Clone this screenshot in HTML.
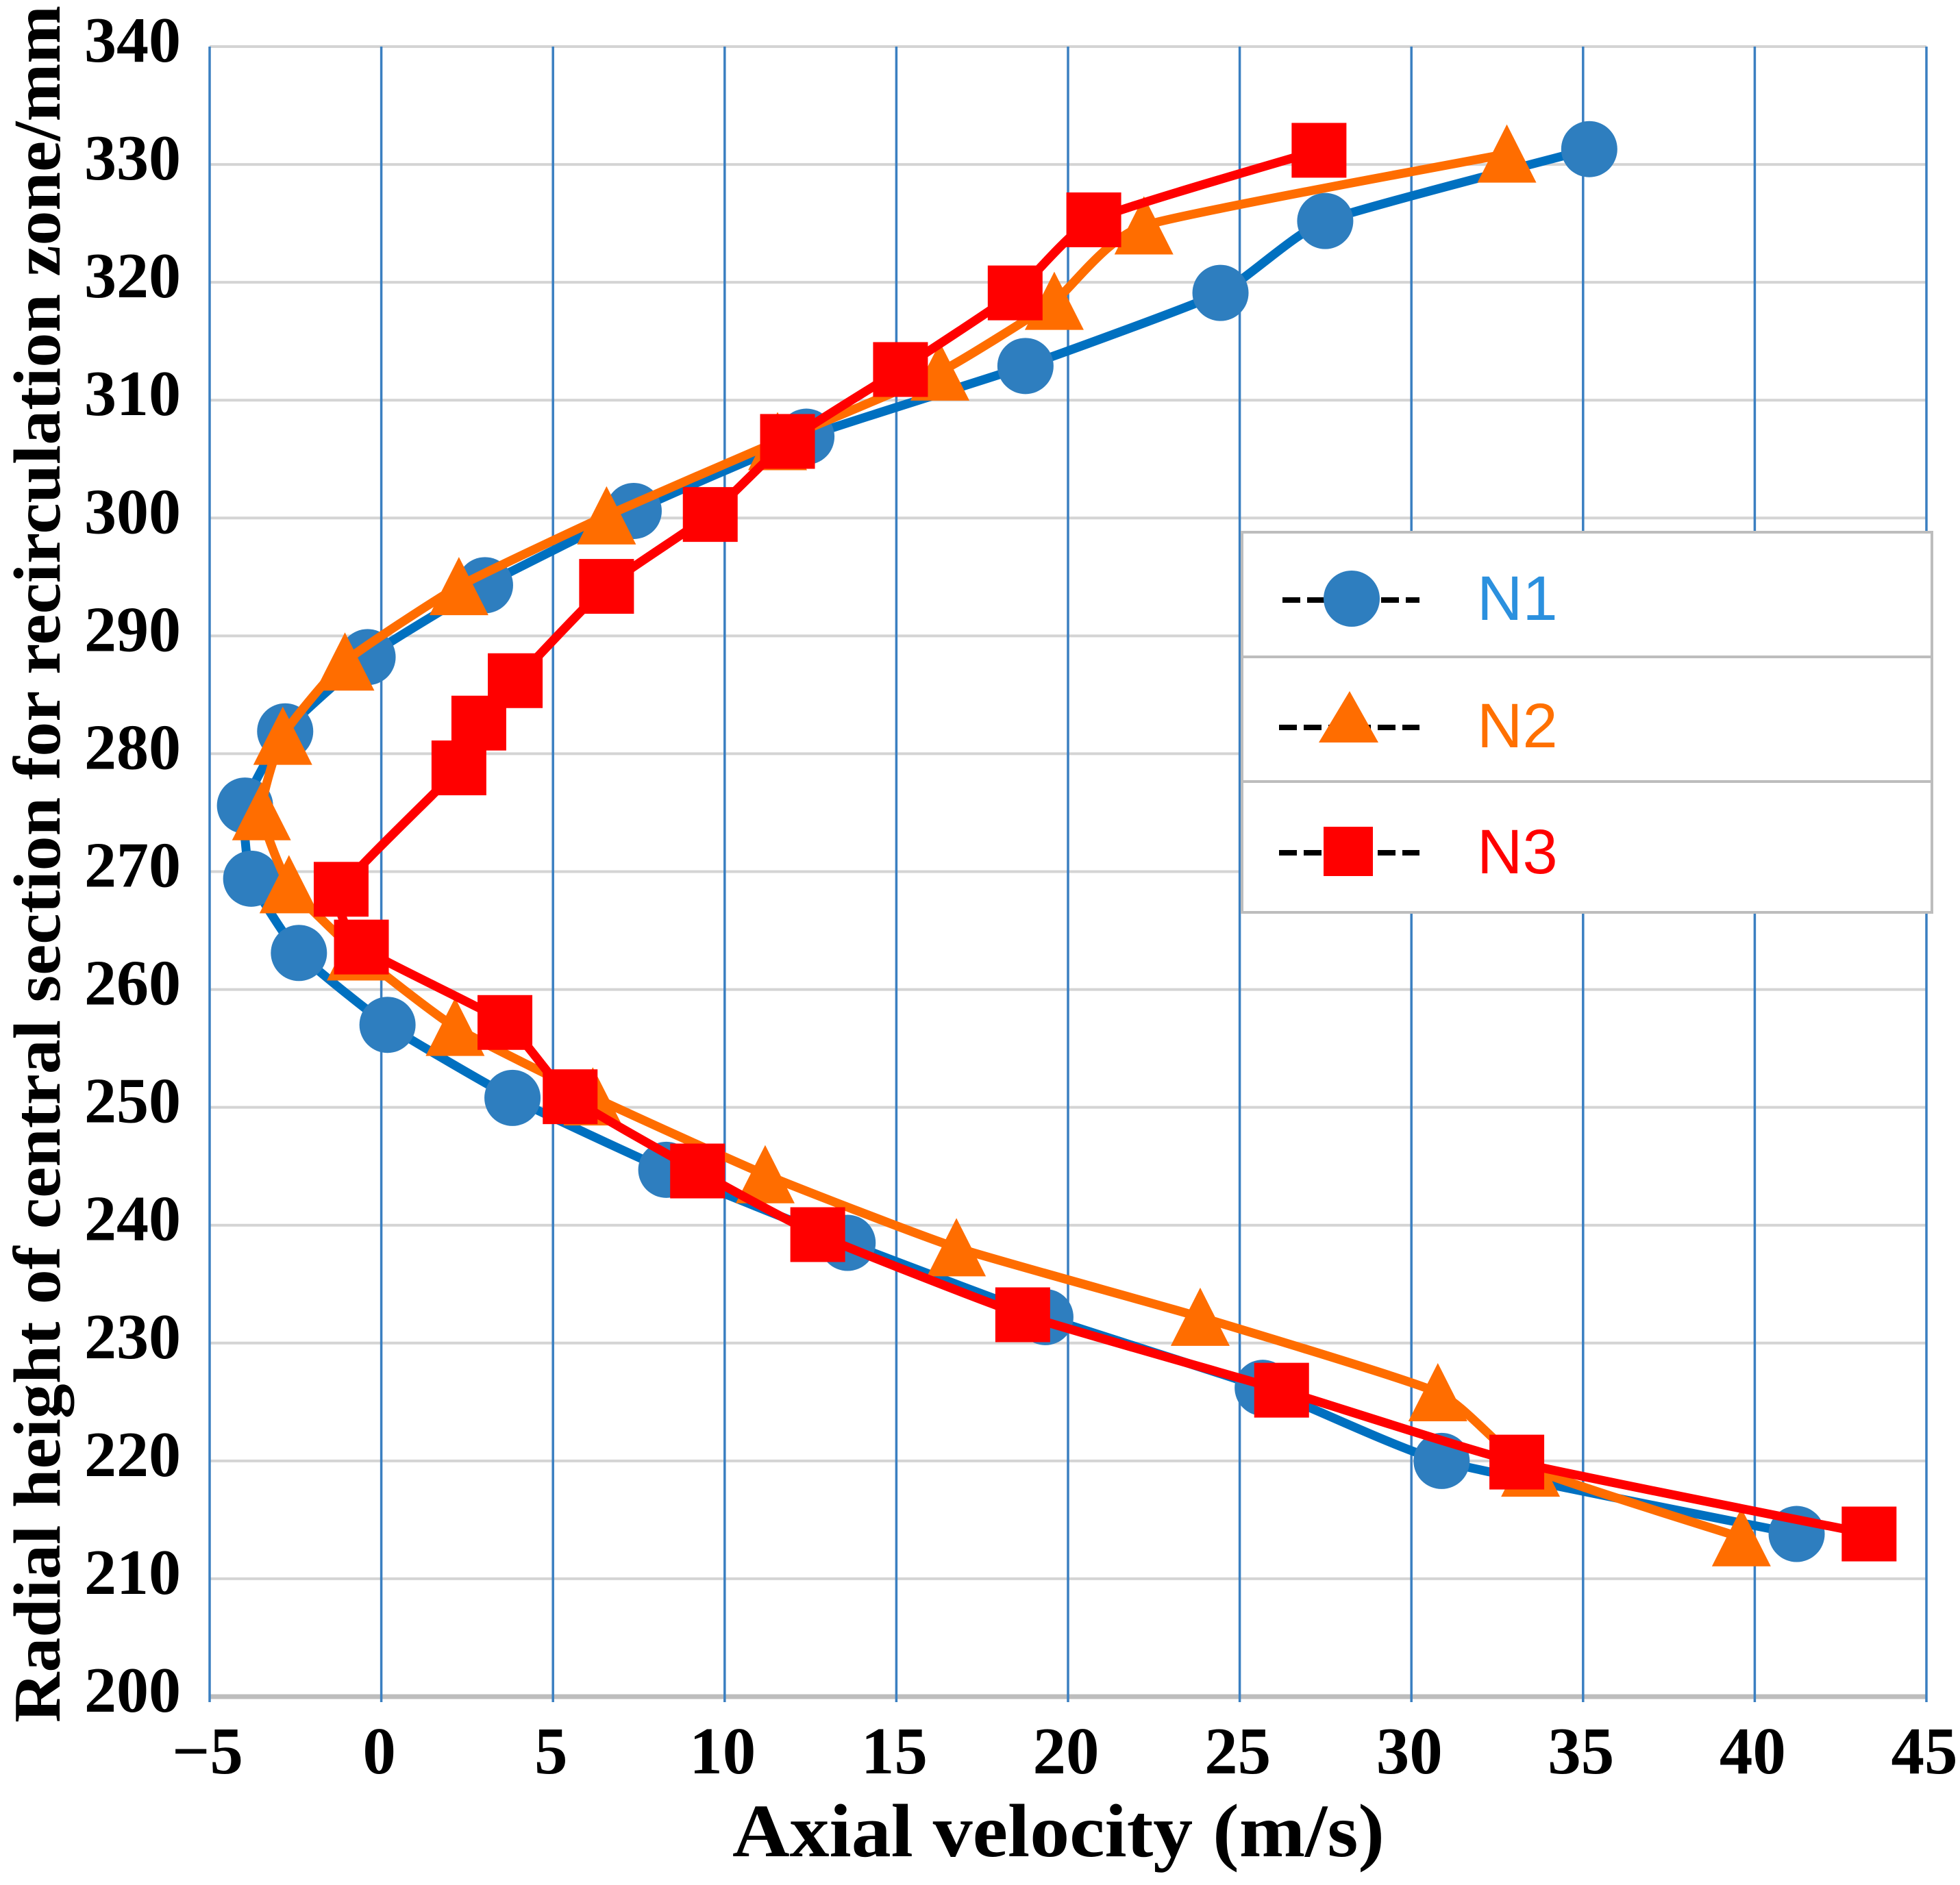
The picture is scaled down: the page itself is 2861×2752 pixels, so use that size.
<!DOCTYPE html>
<html lang="en">
<head>
<meta charset="utf-8">
<title>Axial velocity profile</title>
<style>
  html, body { margin: 0; padding: 0; background: #fff; }
  #chart { display: block; width: 2861px; height: 2752px; }
  text { font-family: "Liberation Serif", serif; font-weight: bold; fill: #000; }
  .legend-label { font-family: "Liberation Sans", sans-serif; font-weight: normal; font-size: 92px; }
</style>
</head>
<body>
<svg id="chart" xmlns="http://www.w3.org/2000/svg" width="2861" height="2752" viewBox="0 0 2861 2752">
  <rect x="0" y="0" width="2861" height="2752" fill="#ffffff"/>
  <g id="grid"></g>
  <g id="ticks"></g>
  <g id="series"></g>

  <text x="1069" y="2710" font-size="110" textLength="952" lengthAdjust="spacingAndGlyphs">Axial velocity (m/s)</text>
  <text transform="translate(87,2515) rotate(-90)" x="0" y="0" font-size="97" textLength="2507" lengthAdjust="spacingAndGlyphs">Radial height of central section for recirculation zone/mm</text>

  <g>
    <rect x="1813" y="777" width="1007" height="555" fill="#ffffff" stroke="#bdbdbd" stroke-width="4"/>
    <line x1="1813" y1="959" x2="2820" y2="959" stroke="#bdbdbd" stroke-width="4"/>
    <line x1="1813" y1="1141" x2="2820" y2="1141" stroke="#bdbdbd" stroke-width="4"/>

    <g>
      <line x1="1872" y1="876" x2="2072" y2="876" stroke="#000" stroke-width="8" stroke-dasharray="26 10"/>
      <circle cx="1973" cy="874" r="41" fill="#2e7ebf"/>
      <text class="legend-label" x="2156" y="905" style="fill:#2b90de">N1</text>
    </g>
    <g>
      <line x1="1867" y1="1062" x2="2072" y2="1062" stroke="#000" stroke-width="8" stroke-dasharray="26 10"/>
      <polygon points="1970,1009 2012,1084 1925,1084" fill="#ff6d00"/>
      <text class="legend-label" x="2156" y="1091" style="fill:#ff7000">N2</text>
    </g>
    <g>
      <line x1="1867" y1="1245" x2="2072" y2="1245" stroke="#000" stroke-width="8" stroke-dasharray="26 10"/>
      <rect x="1932" y="1207" width="72" height="72" fill="#ff0000"/>
      <text class="legend-label" x="2156" y="1275" style="fill:#ff0000">N3</text>
    </g>
  </g>
</svg>

<script>
const xTicks = [-5, 0, 5, 10, 15, 20, 25, 30, 35, 40, 45];
const yTicks = [200, 210, 220, 230, 240, 250, 260, 270, 280, 290, 300, 310, 320, 330, 340];

const n1Velocity = [35.18, 27.49, 24.44, 18.76, 12.38, 7.35, 3.02, -0.40, -2.80, -3.97, -3.79, -2.40, 0.18, 3.82, 8.30, 13.58, 19.34, 25.67, 30.88, 41.22];
const n1Height = [331.3, 325.2, 319.1, 312.9, 306.9, 300.6, 294.3, 288.2, 281.9, 275.6, 269.4, 263.1, 257.0, 250.8, 244.7, 238.5, 232.2, 226.2, 220.0, 213.8];

const n2Velocity = [32.78, 22.21, 19.60, 16.27, 11.54, 6.56, 2.26, -1.06, -2.87, -3.49, -2.69, -0.73, 2.15, 6.16, 11.18, 16.75, 23.85, 30.77, 33.47, 39.61];
const n2Height = [330.9, 324.8, 318.4, 312.4, 306.5, 300.2, 294.2, 287.8, 281.5, 275.1, 268.9, 263.2, 256.8, 250.9, 244.3, 238.1, 232.2, 225.8, 219.4, 213.5];

const n3Velocity = [27.31, 20.75, 18.46, 15.12, 11.83, 9.58, 6.56, 3.90, 2.84, 2.26, -1.17, -0.58, 3.60, 5.50, 9.21, 12.71, 18.68, 26.22, 33.07, 43.33];
const n3Height = [331.2, 325.3, 319.1, 312.6, 306.5, 300.3, 294.2, 286.2, 282.6, 278.8, 268.5, 263.6, 257.2, 250.9, 244.6, 239.2, 232.4, 226.0, 219.9, 213.8];

const NS = 'http://www.w3.org/2000/svg';
const X_LEFT = 306, X_RIGHT = 2812, Y_TOP = 68, Y_BOTTOM = 2477;
const X_MIN = -5, X_MAX = 45, Y_MIN = 200, Y_MAX = 340;

function xScale(v) { return X_LEFT + (v - X_MIN) * (X_RIGHT - X_LEFT) / (X_MAX - X_MIN); }
function yScale(v) { return Y_BOTTOM - (v - Y_MIN) * (Y_BOTTOM - Y_TOP) / (Y_MAX - Y_MIN); }

function make(tag, attrs, parent) {
  const el = document.createElementNS(NS, tag);
  for (const k in attrs) el.setAttribute(k, attrs[k]);
  parent.appendChild(el);
  return el;
}

const grid = document.getElementById('grid');
const ticks = document.getElementById('ticks');
const seriesLayer = document.getElementById('series');

// Horizontal gridlines
yTicks.forEach(function (t) {
  const isAxis = t === Y_MIN;
  const line = make('line', {
    x1: X_LEFT, x2: X_RIGHT, y1: yScale(t), y2: yScale(t),
    stroke: isAxis ? '#bdbdbd' : '#d4d4d4',
    'stroke-width': isAxis ? 7 : 4
  }, grid);
  
  
});

// Vertical gridlines
xTicks.forEach(function (t) {
  const line = make('line', {
    x1: xScale(t), x2: xScale(t), y1: Y_TOP, y2: Y_BOTTOM + 8,
    stroke: '#3a7fc1', 'stroke-width': 3.5
  }, grid);
  
  
});

// Tick labels
yTicks.forEach(function (t) {
  const label = make('text', { x: 264, y: yScale(t) + 22, 'text-anchor': 'end', 'font-size': 94 }, ticks);
  label.textContent = String(t);
  
  
});
xTicks.forEach(function (t) {
  const label = make('text', { x: xScale(t) - 3, y: 2589, 'text-anchor': 'middle', 'font-size': 97 }, ticks);
  label.textContent = t < 0 ? '\u2212' + Math.abs(t) : String(t);
  
  
});

// Gently smoothed line through the points
function smoothPath(xs, ys) {
  const px = xs.map(xScale);
  const py = ys.map(yScale);
  const k = 12;
  let d = 'M' + px[0] + ' ' + py[0];
  for (let i = 0; i < px.length - 1; i++) {
    const a = Math.max(i - 1, 0), b = Math.min(i + 2, px.length - 1);
    const c1x = px[i] + (px[i + 1] - px[a]) / k;
    const c1y = py[i] + (py[i + 1] - py[a]) / k;
    const c2x = px[i + 1] - (px[b] - px[i]) / k;
    const c2y = py[i + 1] - (py[b] - py[i]) / k;
    d += ' C' + c1x + ' ' + c1y + ' ' + c2x + ' ' + c2y + ' ' + px[i + 1] + ' ' + py[i + 1];
  }
  return d;
}

function drawSeries(id, xs, ys, lineColor, markerColor, shape) {
  const g = make('g', {}, seriesLayer);
  
  

  const path = make('path', {
    d: smoothPath(xs, ys), fill: 'none', stroke: lineColor,
    'stroke-width': 13, 'stroke-linejoin': 'round'
  }, g);
  
  

  xs.forEach(function (v, i) {
    const cx = xScale(v), cy = yScale(ys[i]);
    let m;
    if (shape === 'circle') {
      m = make('circle', { cx: cx, cy: cy, r: 41, fill: markerColor }, g);
    } else if (shape === 'triangle') {
      m = make('polygon', {
        points: cx + ',' + (cy - 43) + ' ' + (cx + 43) + ',' + (cy + 42) + ' ' + (cx - 43) + ',' + (cy + 42),
        fill: markerColor
      }, g);
    } else {
      m = make('rect', { x: cx - 40, y: cy - 40, width: 80, height: 80, fill: markerColor }, g);
    }
    
    
  });
}

drawSeries('n1', n1Velocity, n1Height, '#0070c0', '#2e7ebf', 'circle');
drawSeries('n2', n2Velocity, n2Height, '#ff6d00', '#ff6d00', 'triangle');
drawSeries('n3', n3Velocity, n3Height, '#ff0000', '#ff0000', 'square');
</script>
</body>
</html>
